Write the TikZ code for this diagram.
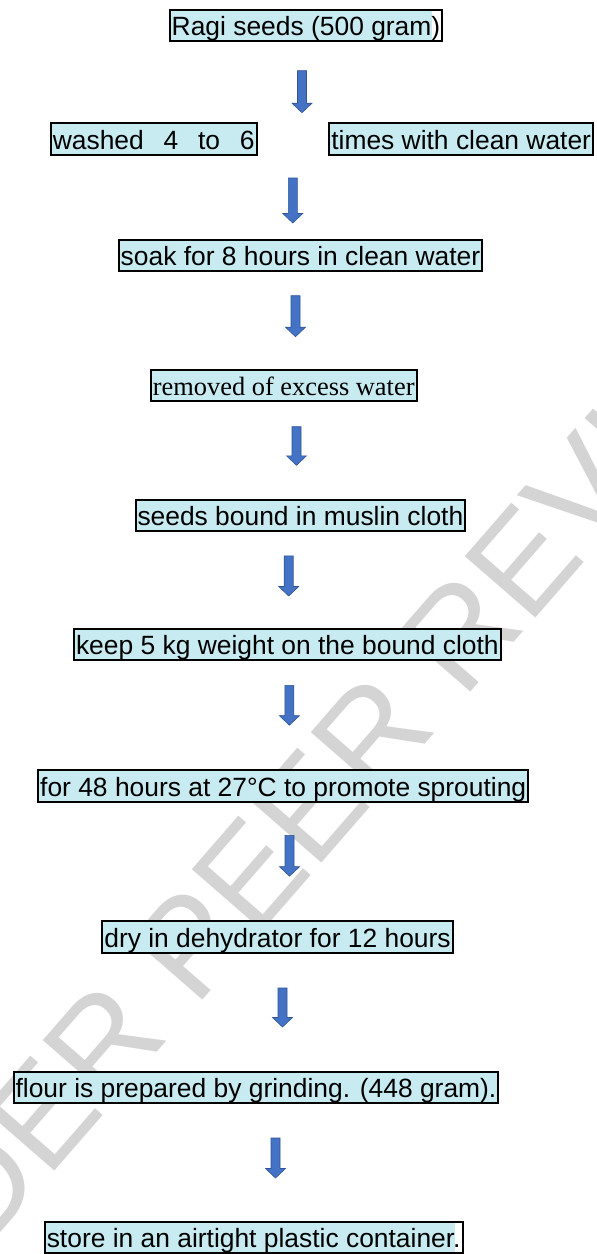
\documentclass[tikz,border=0pt]{standalone}
\usepackage{fontspec}
\setmainfont{Liberation Sans}
\newfontfamily\serifrm{Liberation Serif}
\definecolor{boxfill}{HTML}{C7EBF0}
\definecolor{arrfill}{HTML}{4472C4}
\definecolor{arrline}{HTML}{2F5597}
\definecolor{wmark}{HTML}{D4D4D4}
\tikzset{
  box/.style={draw=black, line width=2pt, fill=boxfill, inner xsep=2pt, inner ysep=0.6pt,
    text height=25.1pt, text depth=4.75pt, font=\fontsize{26.4}{30}\selectfont},
  serifbox/.style={box, font=\fontsize{26.4}{30}\serifrm},
  lastplain/.style={path picture={\fill[white] ([xshift=-#1]path picture bounding box.north east)
    rectangle (path picture bounding box.south east);}},
  blockarrow/.style={fill=arrfill, draw=arrline, line width=0.6pt},
  watermark/.style={rotate=49, text=wmark, inner sep=0pt, font=\fontsize{136}{136}\selectfont}
}
\newcommand\downarr[4]{%
  \filldraw[blockarrow] (#2-4.5,#3) -- (#2+4.5,#3) -- (#2+4.5,#4-9.5) -- (#2+10,#4-9.5)
    -- (#2,#4) -- (#2-10,#4-9.5) -- (#2-4.5,#4-9.5) -- cycle;
  \coordinate (#1) at (#2,#4);}
\begin{document}
\begin{tikzpicture}[x=1pt,y=-1pt]
\useasboundingbox (0,0) rectangle (597,1254);
\fill[white] (0,0) rectangle (597,1254);
% watermark
\node[watermark] (wm) at (300,818) {UNDER PEER REVIEW};
% boxes
\node[box, lastplain=10pt] (ragi) at (306,25.5) {Ragi seeds (500 gram)};
\node[box] (washed) at (153.7,139) {washed\hspace{0.75em}4\hspace{0.75em}to\hspace{0.75em}6};
\node[box] (times) at (461.2,139) {times with clean water};
\node[box] (soak) at (300.5,255.7) {soak for 8 hours in clean water};
\node[serifbox] (removed) at (283.7,385.7) {removed of excess water};
\node[box] (seeds) at (300.4,515.2) {seeds bound in muslin cloth};
\node[box] (keep) at (287.4,644.8) {keep 5 kg weight on the bound cloth};
\node[box] (hours) at (283.2,786) {for 48 hours at 27°C to promote sprouting};
\node[box] (dry) at (277.5,937) {dry in dehydrator for 12 hours};
\node[box] (flour) at (256,1087.2) {flour is prepared by grinding. (448 gram).};
\node[box, lastplain=7.5pt] (store) at (253.7,1237.6) {store in an airtight plastic container.};
% block arrows
\downarr{a1}{302}{70.7}{112.7}
\downarr{a2}{292.8}{178}{223}
\downarr{a3}{295.5}{295.7}{336.7}
\downarr{a4}{296.5}{426.7}{465.3}
\downarr{a5}{288.7}{555.8}{596}
\downarr{a6}{289.4}{685.4}{725.2}
\downarr{a7}{289.5}{835.3}{876.2}
\downarr{a8}{282.5}{988}{1027}
\downarr{a9}{275.5}{1138}{1178}
\end{tikzpicture}
\end{document}
